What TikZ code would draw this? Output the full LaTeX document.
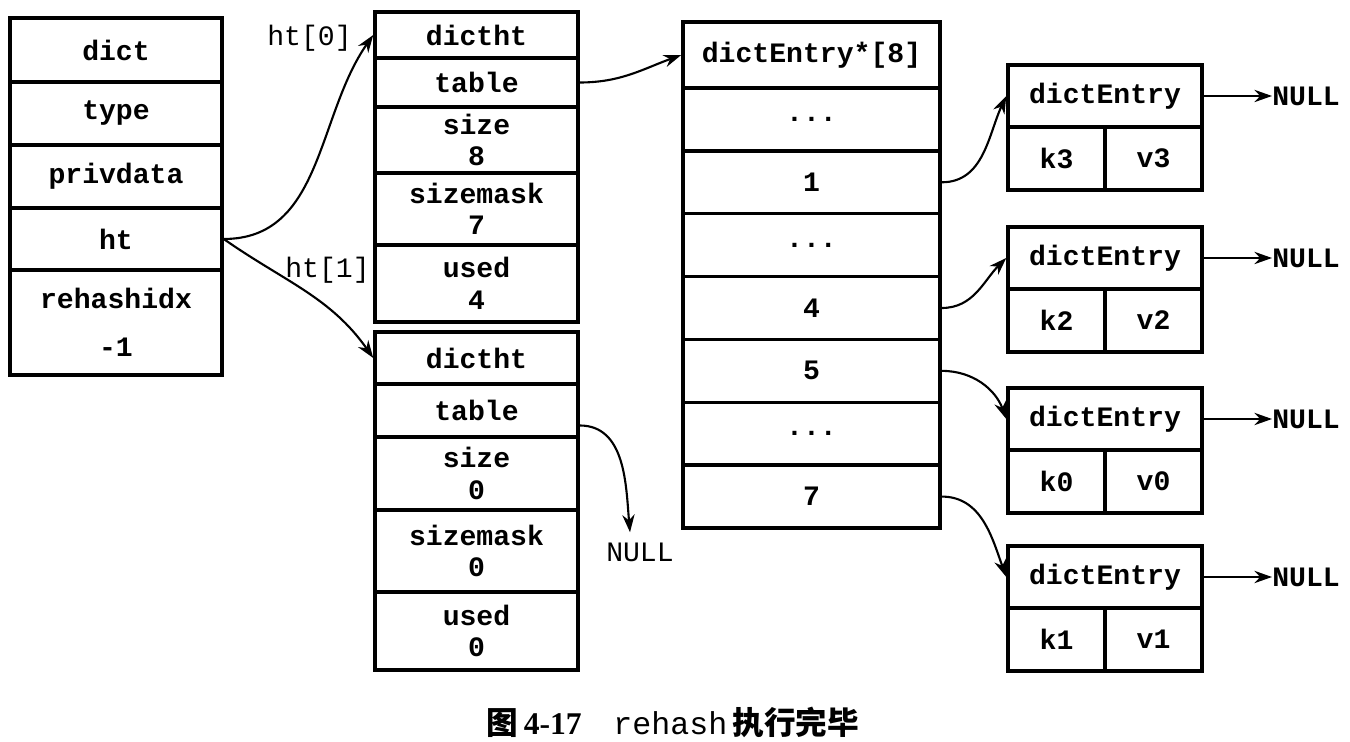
\documentclass[tikz,border=0pt]{standalone}
\usepackage{fontspec}
\setmonofont{Liberation Mono}
\newfontfamily\cjk{Noto Sans CJK SC}
\newfontfamily\capnum{Liberation Serif}
\usetikzlibrary{arrows.meta}
\newcommand{\rowdots}{...}

\begin{document}
\begin{tikzpicture}[x=0.02cm,y=-0.02cm,
        cell/.style={draw,line width=2pt,inner sep=0pt,align=center,
            font=\ttfamily\bfseries\fontsize{16}{18}\selectfont},
        ptr/.style={-{Stealth[length=10pt,width=7pt]},line width=1.2pt},
        lbl/.style={inner sep=0pt,font=\ttfamily\fontsize{16}{18}\selectfont}]
        \useasboundingbox (0,0) rectangle (1350,742);

        % dict
        \foreach \name/\txt/\y/\h in {dict/dict/50/1.28, type/type/113.5/1.26,
                priv/privdata/176.5/1.26, ht/ht/239/1.24} {
            \node[cell,minimum width=4.24cm,minimum height=\h cm] (\name) at (116,\y) {\txt};
        }
        \node[cell,minimum width=4.24cm,minimum height=2.1cm] (rehash) at (116,322.5) {rehashidx\\[9pt]-1};

        % ht[0]
        \foreach \name/\txt/\y/\h in {t0h/dictht/35/0.92, t0tab/table/82.5/0.98,
                t0size/size\\8/140/1.32, t0mask/sizemask\\7/209/1.44, t0used/used\\4/283.5/1.54} {
            \node[cell,minimum width=4.06cm,minimum height=\h cm] (\name) at (476.5,\y) {\txt};
        }

        % ht[1]
        \foreach \name/\txt/\y/\h in {t1h/dictht/358/1.04, t1tab/table/410.5/1.06,
                t1size/size\\0/473.5/1.46, t1mask/sizemask\\0/551/1.64, t1used/used\\0/631/1.56} {
            \node[cell,minimum width=4.06cm,minimum height=\h cm] (\name) at (476.5,\y) {\txt};
        }

        % table
        \node[cell,minimum width=5.14cm,minimum height=1.32cm] (arr) at (811.5,55) {dictEntry*[8]};
        \foreach \name/\txt [count=\i] in {r0/\rowdots, r1/1, r2/\rowdots, r4/4, r5/5, r6/\rowdots, r7/7} {
            \node[cell,minimum width=5.14cm,minimum height=1.257cm] (\name) at (811.5,{88+62.86*\i-31.43}) {\txt};
        }

        % entries
        \foreach \k/\top in {3/65, 2/227, 0/388, 1/546} {
            \node[cell,minimum width=3.88cm,minimum height=1.24cm] (de\k) at (1105,\top+31) {dictEntry};
            \node[cell,minimum width=1.94cm,minimum height=1.26cm] (k\k) at (1056.5,\top+93.5) {k\k};
            \node[cell,minimum width=1.94cm,minimum height=1.26cm] (v\k) at (1153.5,\top+93.5) {v\k};
            \node[lbl,anchor=west,font=\ttfamily\bfseries\fontsize{16}{18}\selectfont] (n\k) at (1272,\top+31) {NULL};
            \draw[ptr] (de\k.east) -- (n\k.west);
        }

        \draw[ptr] (ht.east) to[out=0,in=235] (t0h.west);
        \draw[ptr] (ht.east) to[out=-35,in=125] (t1h.west);
        \node[lbl,anchor=east] (l0) at (352,38) {ht[0]};
        \node[lbl,anchor=east] (l1) at (370,270) {ht[1]};

        \draw[ptr] (t0tab.east) to[out=0,in=200] (arr.west);
        \node[lbl] (nullt) at (640,552) {NULL};
        \draw[ptr] ([yshift=-0.3cm]t1tab.east) to[out=0,in=95] ([xshift=-0.2cm,yshift=0.2cm]nullt.north);

        \draw[ptr] (r1.east) to[out=0,in=245] (de3.west);
        \draw[ptr] (r4.east) to[out=0,in=225] (de2.west);
        \draw[ptr] (r5.east) to[out=0,in=110] (de0.west);
        \draw[ptr] (r7.east) to[out=0,in=110] (de1.west);

        \node[inner sep=0pt,font=\fontsize{18}{20}\selectfont] (cap) at (673,722)
            {{\cjk\bfseries 图}\,{\capnum\bfseries 4-17}\quad{\ttfamily rehash}\,{\cjk\bfseries 执行完毕}};
    \end{tikzpicture}
\end{document}
